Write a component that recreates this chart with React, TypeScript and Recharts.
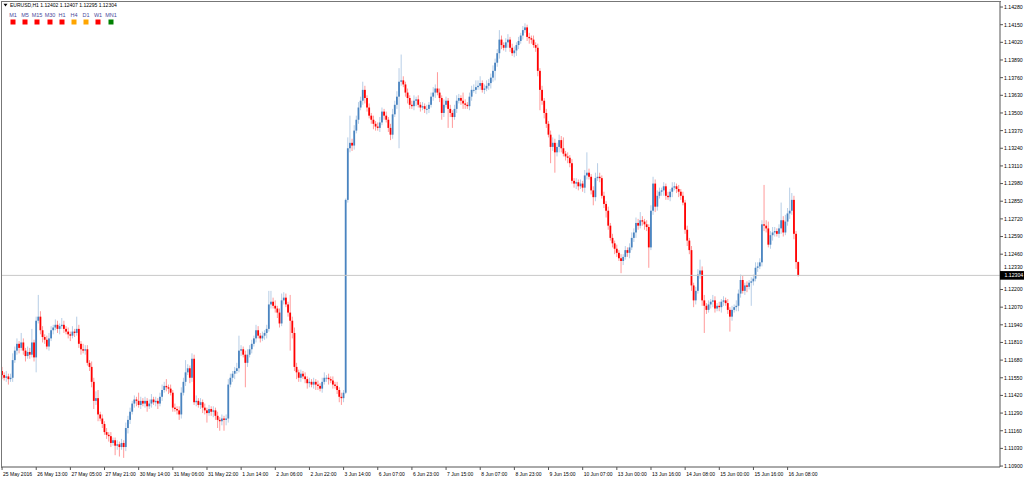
import React from 'react';
import { ComposedChart, Bar, XAxis, YAxis, ReferenceLine } from 'recharts';

// Hourly closes (EURUSD H1)
const closes: number[] = [
  1.1157,1.1155,1.1156,1.1154,1.1155,1.1168,1.1175,1.1180,1.1177,1.1181,1.1175,1.1171,1.1174,1.1172,1.1181,1.1170,1.1197,1.1200,1.1190,1.1185,
  1.1183,1.1178,1.1184,1.1190,1.1192,1.1194,1.1191,1.1193,1.1194,1.1191,1.1189,1.1187,1.1186,1.1189,1.1188,1.1191,1.1180,1.1176,1.1175,1.1176,
  1.1166,1.1163,1.1152,1.1138,1.1140,1.1128,1.1125,1.1121,1.1115,1.1113,1.1112,1.1107,1.1109,1.1105,1.1106,1.1104,1.1107,1.1104,1.1118,1.1124,
  1.1130,1.1136,1.1139,1.1138,1.1135,1.1138,1.1136,1.1138,1.1134,1.1136,1.1139,1.1137,1.1138,1.1136,1.1141,1.1146,1.1149,1.1148,1.1147,1.1144,
  1.1133,1.1132,1.1131,1.1128,1.1144,1.1152,1.1159,1.1162,1.1155,1.1169,1.1137,1.1138,1.1135,1.1137,1.1133,1.1131,1.1129,1.1132,1.1130,1.1131,
  1.1127,1.1124,1.1123,1.1125,1.1124,1.1125,1.1150,1.1155,1.1158,1.1160,1.1162,1.1175,1.1176,1.1172,1.1166,1.1172,1.1176,1.1180,1.1184,1.1190,
  1.1186,1.1184,1.1186,1.1188,1.1191,1.1209,1.1211,1.1208,1.1206,1.1203,1.1195,1.1212,1.1214,1.1209,1.1203,1.1197,1.1188,1.1163,1.1159,1.1155,
  1.1158,1.1156,1.1154,1.1151,1.1152,1.1150,1.1152,1.1150,1.1149,1.1147,1.1152,1.1155,1.1155,1.1154,1.1153,1.1150,1.1149,1.1146,1.1141,1.1140,
  1.1144,1.1286,1.1324,1.1328,1.1326,1.1337,1.1345,1.1354,1.1359,1.1367,1.1361,1.1354,1.1348,1.1345,1.1342,1.1340,1.1339,1.1343,1.1351,1.1348,
  1.1345,1.1339,1.1334,1.1349,1.1356,1.1362,1.1373,1.1374,1.1371,1.1365,1.1361,1.1356,1.1355,1.1359,1.1360,1.1356,1.1354,1.1355,1.1353,1.1353,
  1.1356,1.1362,1.1365,1.1368,1.1365,1.1361,1.1350,1.1356,1.1359,1.1353,1.1350,1.1347,1.1353,1.1359,1.1361,1.1359,1.1357,1.1356,1.1355,1.1362,
  1.1367,1.1367,1.1369,1.1370,1.1372,1.1367,1.1368,1.1370,1.1372,1.1376,1.1381,1.1387,1.1394,1.1404,1.1400,1.1398,1.1402,1.1404,1.1398,1.1394,
  1.1396,1.1400,1.1403,1.1407,1.1411,1.1413,1.1406,1.1405,1.1404,1.1400,1.1398,1.1381,1.1367,1.1359,1.1350,1.1342,1.1334,1.1325,1.1328,1.1321,
  1.1325,1.1330,1.1324,1.1320,1.1318,1.1317,1.1313,1.1300,1.1298,1.1299,1.1296,1.1298,1.1295,1.1304,1.1306,1.1303,1.1293,1.1288,1.1302,1.1303,
  1.1302,1.1289,1.1283,1.1278,1.1267,1.1258,1.1254,1.1250,1.1247,1.1243,1.1241,1.1244,1.1249,1.1247,1.1251,1.1258,1.1262,1.1269,1.1267,1.1271,
  1.1270,1.1268,1.1266,1.1251,1.1278,1.1298,1.1281,1.1289,1.1292,1.1293,1.1296,1.1289,1.1288,1.1292,1.1295,1.1296,1.1294,1.1292,1.1289,1.1284,
  1.1264,1.1256,1.1249,1.1223,1.1212,1.1219,1.1231,1.1234,1.1212,1.1208,1.1205,1.1209,1.1211,1.1212,1.1206,1.1208,1.1207,1.1211,1.1212,1.1210,
  1.1205,1.1200,1.1205,1.1207,1.1208,1.1217,1.1227,1.1219,1.1223,1.1222,1.1225,1.1226,1.1228,1.1236,1.1237,1.1240,1.1268,1.1267,1.1265,1.1253,
  1.1260,1.1262,1.1263,1.1261,1.1265,1.1271,1.1262,1.1270,1.1276,1.1278,1.1286,1.1261,1.12402,1.12304,
];

// Upper wick above the body, in pips
const upWick: number[] = [
  3,2,4,2,3,5,3,4,2,7,3,2,4,3,10,2,3,16,4,3,
  2,3,4,3,2,4,3,2,5,3,2,3,2,4,2,9,3,2,4,3,
  3,2,4,3,5,6,2,3,2,3,2,3,2,2,3,2,3,2,4,3,
  3,2,3,2,6,3,2,3,2,3,4,2,3,2,3,4,3,5,2,3,
  2,3,2,3,4,3,9,3,2,4,3,4,2,3,2,3,2,3,2,3,
  2,3,2,3,2,3,4,3,2,3,4,11,3,2,3,4,3,3,2,4,
  3,2,3,2,3,10,8,3,4,2,3,5,4,3,2,13,3,4,3,2,
  3,2,3,2,3,2,3,2,3,2,3,4,2,3,2,3,2,3,2,3,
  2,1,8,20,3,4,3,4,3,6,3,2,3,2,3,2,3,4,3,2,
  3,2,3,4,3,4,10,19,3,2,3,2,3,4,2,3,2,3,2,3,
  2,3,4,3,12,3,2,4,3,2,3,2,3,4,3,2,6,3,2,3,
  3,4,5,4,5,2,3,4,3,3,4,3,3,7,3,2,3,4,2,3,
  3,2,3,2,3,3,2,3,2,3,2,3,2,3,2,3,2,3,4,3,
  3,4,3,8,2,3,2,3,2,3,2,3,2,4,15,3,2,3,4,10,
  3,2,3,2,3,2,3,2,3,2,3,2,3,2,3,4,3,4,3,6,
  3,2,3,2,4,5,3,4,3,2,3,2,3,2,4,3,2,3,2,3,
  2,3,2,3,2,3,4,8,3,4,2,3,2,4,3,2,3,2,3,2,
  3,2,3,2,4,3,4,3,2,3,2,3,3,4,3,3,3,29,4,5,
  3,4,3,2,3,13,3,5,4,17,5,3,2,0.5,
];

// Lower wick below the body, in pips
const downWick: number[] = [
  3,2,3,4,2,3,2,3,4,2,3,4,2,3,2,3,11,2,3,4,
  3,2,3,2,3,2,3,4,2,3,2,3,4,2,3,2,3,4,2,3,
  2,3,4,6,3,5,2,3,2,3,4,3,2,7,3,7,2,8,3,4,
  3,2,3,4,2,3,2,3,4,2,3,2,3,4,2,3,2,3,4,2,
  3,2,3,4,3,2,3,2,4,3,2,3,2,3,4,3,7,2,3,4,
  3,6,7,3,8,4,3,2,3,4,2,3,4,2,18,3,2,3,2,3,
  2,3,2,3,4,2,3,2,3,4,3,2,3,2,3,22,4,3,5,3,
  3,2,3,4,3,2,3,4,3,2,3,2,3,4,2,3,2,3,4,5,
  3,1,2,3,4,3,2,3,2,3,4,3,2,3,4,3,2,3,2,3,
  2,3,4,3,2,3,38,3,2,3,4,3,2,3,4,2,3,2,3,4,
  3,2,3,4,2,3,5,3,2,14,3,8,2,3,2,3,4,3,2,3,
  3,2,3,2,3,2,3,2,3,4,3,7,3,4,3,2,3,4,3,2,
  3,4,3,2,3,2,3,4,3,2,3,4,15,3,4,3,2,12,3,15,
  3,4,3,2,3,4,3,2,3,4,3,2,3,4,3,2,3,6,3,2,
  3,2,3,5,3,2,3,4,3,2,9,3,2,3,4,2,3,4,3,2,
  3,4,3,15,2,3,4,3,2,3,4,3,2,3,4,2,3,4,3,2,
  3,4,3,4,5,3,2,3,4,20,3,2,3,4,3,2,3,4,3,2,
  3,11,3,2,3,4,3,2,3,4,2,17,3,2,3,2,3,4,3,2,
  3,4,3,2,3,4,3,2,3,4,3,4,5,0.9,
];

const FIRST_OPEN = 1.1160;

const xTickLabels: string[] = [
  '25 May 2016', '26 May 13:00', '27 May 05:00', '27 May 21:00', '30 May 14:00', '31 May 06:00',
  '31 May 22:00', '1 Jun 14:00', '2 Jun 06:00', '2 Jun 22:00', '3 Jun 14:00', '6 Jun 07:00',
  '6 Jun 23:00', '7 Jun 15:00', '8 Jun 07:00', '8 Jun 23:00', '9 Jun 15:00', '10 Jun 07:00',
  '13 Jun 00:00', '13 Jun 16:00', '14 Jun 08:00', '15 Jun 00:00', '15 Jun 16:00', '16 Jun 08:00',
];

const yTicks: number[] = [
  1.1428, 1.1415, 1.1402, 1.1389, 1.1376, 1.1363, 1.1350, 1.1337, 1.1324, 1.1311, 1.1298, 1.1285, 1.1272, 1.1259,
  1.1246, 1.1233, 1.1220, 1.1207, 1.1194, 1.1181, 1.1168, 1.1155, 1.1142, 1.1129, 1.1116, 1.1103, 1.1090,
];

const timeframes: string[] = ['M1', 'M5', 'M15', 'M30', 'H1', 'H4', 'D1', 'W1', 'MN1'];
const tfColors: string[] = ['#ff0000', '#ff0000', '#ff0000', '#ff0000', '#ff0000', '#ffa500', '#ffa500', '#ff0000', '#008000'];

const SYMBOL = 'EURUSD,H1';
const TOTAL_SLOTS = 468;
const BARS_PER_LABEL = 16;
const Y_DOMAIN: [number, number] = [1.10893, 1.14317];

const BULL = '#4a84c0';
const BEAR = '#ff0000';
const FONT = "'Liberation Sans', Arial, sans-serif";

type Row = { i: number; o?: number; h?: number; l?: number; c?: number; range?: [number, number] | null };

const data: Row[] = [];
for (let i = 0; i < TOTAL_SLOTS; i++) {
  if (i < closes.length) {
    const c = closes[i];
    const o = i === 0 ? FIRST_OPEN : closes[i - 1];
    const h = Math.max(o, c) + upWick[i] / 10000;
    const l = Math.min(o, c) - downWick[i] / 10000;
    data.push({ i, o, h, l, c, range: [l, h] });
  } else {
    data.push({ i, range: null });
  }
}
const last = data[closes.length - 1];
const current = last.c as number;

const xTickIdx = xTickLabels.map((_, k) => k * BARS_PER_LABEL);

const Candle = (props: any) => {
  const { x, y, width, height, payload } = props;
  if (!payload || payload.h == null || height == null) return <g />;
  const { o, h, l, c } = payload;
  const top = Math.min(y, y + height);
  const hh = Math.abs(height);
  const k = h - l > 0 ? hh / (h - l) : 0;
  const cx = x + width / 2;
  const yo = top + (h - o) * k;
  const yc = top + (h - c) * k;
  const up = c >= o;
  const color = up ? BULL : BEAR;
  const bTop = Math.min(yo, yc);
  const bH = Math.max(Math.abs(yc - yo), 0.9);
  return (
    <g>
      <line x1={cx} x2={cx} y1={top} y2={top + hh} stroke={color} strokeOpacity={0.4} strokeWidth={1} />
      <rect x={cx - 0.9} y={bTop} width={1.8} height={bH} fill={color} />
    </g>
  );
};

const XTick = (props: any) => {
  const { x, y, payload } = props;
  const label = xTickLabels[Math.round(payload.value / BARS_PER_LABEL)] ?? '';
  return (
    <text x={x + 1} y={y + 5.5} fontSize={5} fontFamily={FONT} fill="#000" textAnchor="start">
      {label}
    </text>
  );
};

const YTick = (props: any) => {
  const { x, y, payload } = props;
  const v = payload.value as number;
  if (Math.abs(v - current) < 1e-9) {
    return (
      <g>
        <rect x={x - 4} y={y - 4.3} width={26} height={8.6} fill="#000" />
        <text x={x + 0.5} y={y + 1.9} fontSize={5.2} fontFamily={FONT} fill="#fff" textAnchor="start">
          {v.toFixed(5)}
        </text>
      </g>
    );
  }
  const nearCurrent = Math.abs(v - current) < 0.0006;
  return (
    <text x={x} y={y + (nearCurrent ? -2.6 : 1.9)} fontSize={5.2} fontFamily={FONT} fill="#000" textAnchor="start">
      {v.toFixed(5)}
    </text>
  );
};

export default function App() {
  const f5 = (n: number) => n.toFixed(5);
  const header = `${SYMBOL}  ${f5(last.o as number)} ${f5(last.h as number)} ${f5(last.l as number)} ${f5(current)}`;
  const tfX = [13, 25, 37, 50, 62, 74, 86, 98, 111];
  return (
    <div style={{ position: 'fixed', left: 0, top: 0, width: 1024, height: 479, background: '#fff', overflow: 'hidden' }}>
      <ComposedChart
        width={1024}
        height={479}
        data={data}
        margin={{ top: 2, right: 0, bottom: 0, left: 1 }}
        barCategoryGap={0}
        barGap={0}
      >
        <XAxis
          dataKey="i"
          type="category"
          ticks={xTickIdx}
          interval={0}
          height={12}
          axisLine={{ stroke: '#555' }}
          tickLine={{ stroke: '#555' }}
          tickSize={3}
          tickMargin={0}
          tick={<XTick />}
        />
        <YAxis
          orientation="right"
          type="number"
          domain={Y_DOMAIN}
          allowDataOverflow
          ticks={[...yTicks, current]}
          interval={0}
          width={24}
          axisLine={{ stroke: '#555' }}
          tickLine={{ stroke: '#555' }}
          tickSize={3}
          tickMargin={1}
          tick={<YTick />}
        />
        <ReferenceLine y={current} stroke="#c8c8c8" strokeWidth={1} ifOverflow="hidden" />
        <Bar dataKey="range" isAnimationActive={false} shape={(p: any) => <Candle {...p} />} />
      </ComposedChart>
      <div style={{ position: 'absolute', left: 1, top: 1, width: 999, height: 466, borderTop: '1px solid #777', borderLeft: '1px solid #777', pointerEvents: 'none' }} />
      <svg width={140} height={28} style={{ position: 'absolute', left: 0, top: 0, pointerEvents: 'none' }}>
        <path d="M3.5 3.8 L7.5 3.8 L5.5 6.6 Z" fill="#000" />
        <text x={10} y={7} fontSize={5} fontFamily={FONT} fill="#000">{header}</text>
        {timeframes.map((t, k) => (
          <g key={t}>
            <text x={tfX[k]} y={17} fontSize={5.5} fontFamily={FONT} fill="#4a4a9c" textAnchor="middle">{t}</text>
            <rect x={tfX[k] - 2.5} y={19.5} width={5} height={5} fill={tfColors[k]} />
          </g>
        ))}
      </svg>
    </div>
  );
}
